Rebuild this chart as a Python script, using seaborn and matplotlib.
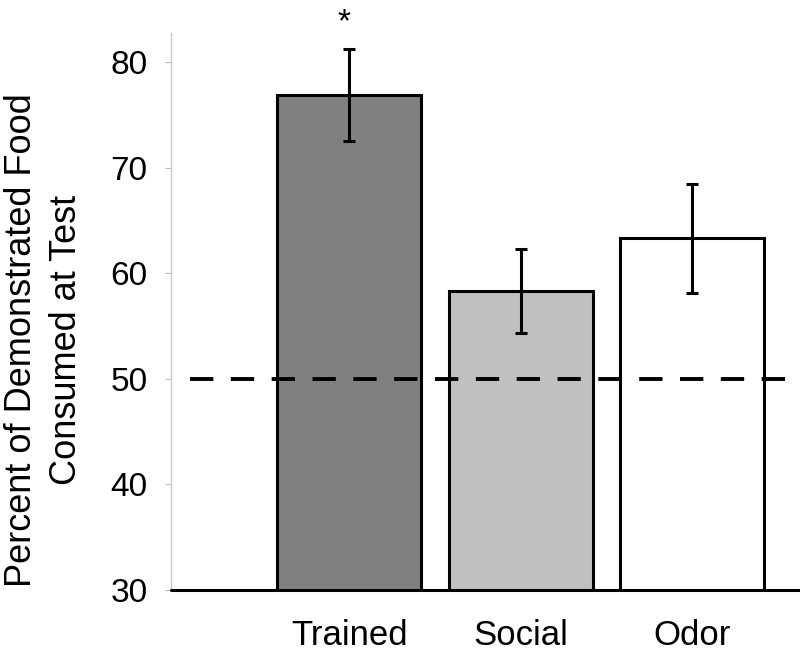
import seaborn as sns
import matplotlib
matplotlib.use('Agg')
import matplotlib.pyplot as plt
import pandas as pd

groups = ['Trained', 'Social', 'Odor']
means = [76.9, 58.3, 63.3]
sems = [4.35, 4.0, 5.2]
colors = ['#808080', '#c0c0c0', '#ffffff']
chance = 50

sns.set_style('white')
plt.rcParams['font.family'] = ['Liberation Sans', 'DejaVu Sans']
plt.rcParams['text.color'] = 'black'
plt.rcParams['axes.labelcolor'] = 'black'
plt.rcParams['xtick.labelcolor'] = 'black'
plt.rcParams['ytick.labelcolor'] = 'black'

df = pd.DataFrame({'group': groups, 'pct': means})

fig = plt.figure(figsize=(8, 6.54), dpi=100)
ax = fig.add_axes([0.214, 0.098, 0.786, 0.852])

sns.barplot(data=df, x='group', y='pct', hue='group', palette=colors,
            legend=False, width=0.84, edgecolor='black', linewidth=2.2,
            errorbar=None, ax=ax)
ax.errorbar(range(len(groups)), means, yerr=sems, fmt='none', ecolor='black',
            elinewidth=2.2, capsize=4, capthick=2.2, zorder=5)

ax.axhline(chance, xmin=0.03, xmax=1, color='black', linestyle=(0, (6, 4.5)),
           linewidth=2.8, zorder=4)
ax.axhline(30, xmin=0, xmax=1, color='black', linewidth=2.2, clip_on=False, zorder=6)

# significance marker above the trained bar
ax.text(-0.03, 82.9, '*', ha='center', va='baseline', fontsize=24, clip_on=False)

ax.set_ylim(30, 82.8)
ax.set_xlim(-1.04, 2.63)
ax.set_yticks([30, 40, 50, 60, 70, 80])
ax.tick_params(axis='y', labelsize=24, length=4, width=0.8, color='#bbbbbb', left=True, pad=13)
ax.tick_params(axis='x', labelsize=25, length=0, pad=21)

for s in ['top', 'right', 'bottom']:
    ax.spines[s].set_visible(False)
ax.spines['left'].set_color('#c8c8c8')
ax.spines['left'].set_linewidth(1)

ax.set_xlabel('')
ax.set_ylabel('Percent of Demonstrated Food\nConsumed at Test', fontsize=26,
              linespacing=1.35, va='center')
ax.yaxis.set_label_coords(-0.202, 0.449)

plt.savefig('out.png', dpi=100)
plt.close()
